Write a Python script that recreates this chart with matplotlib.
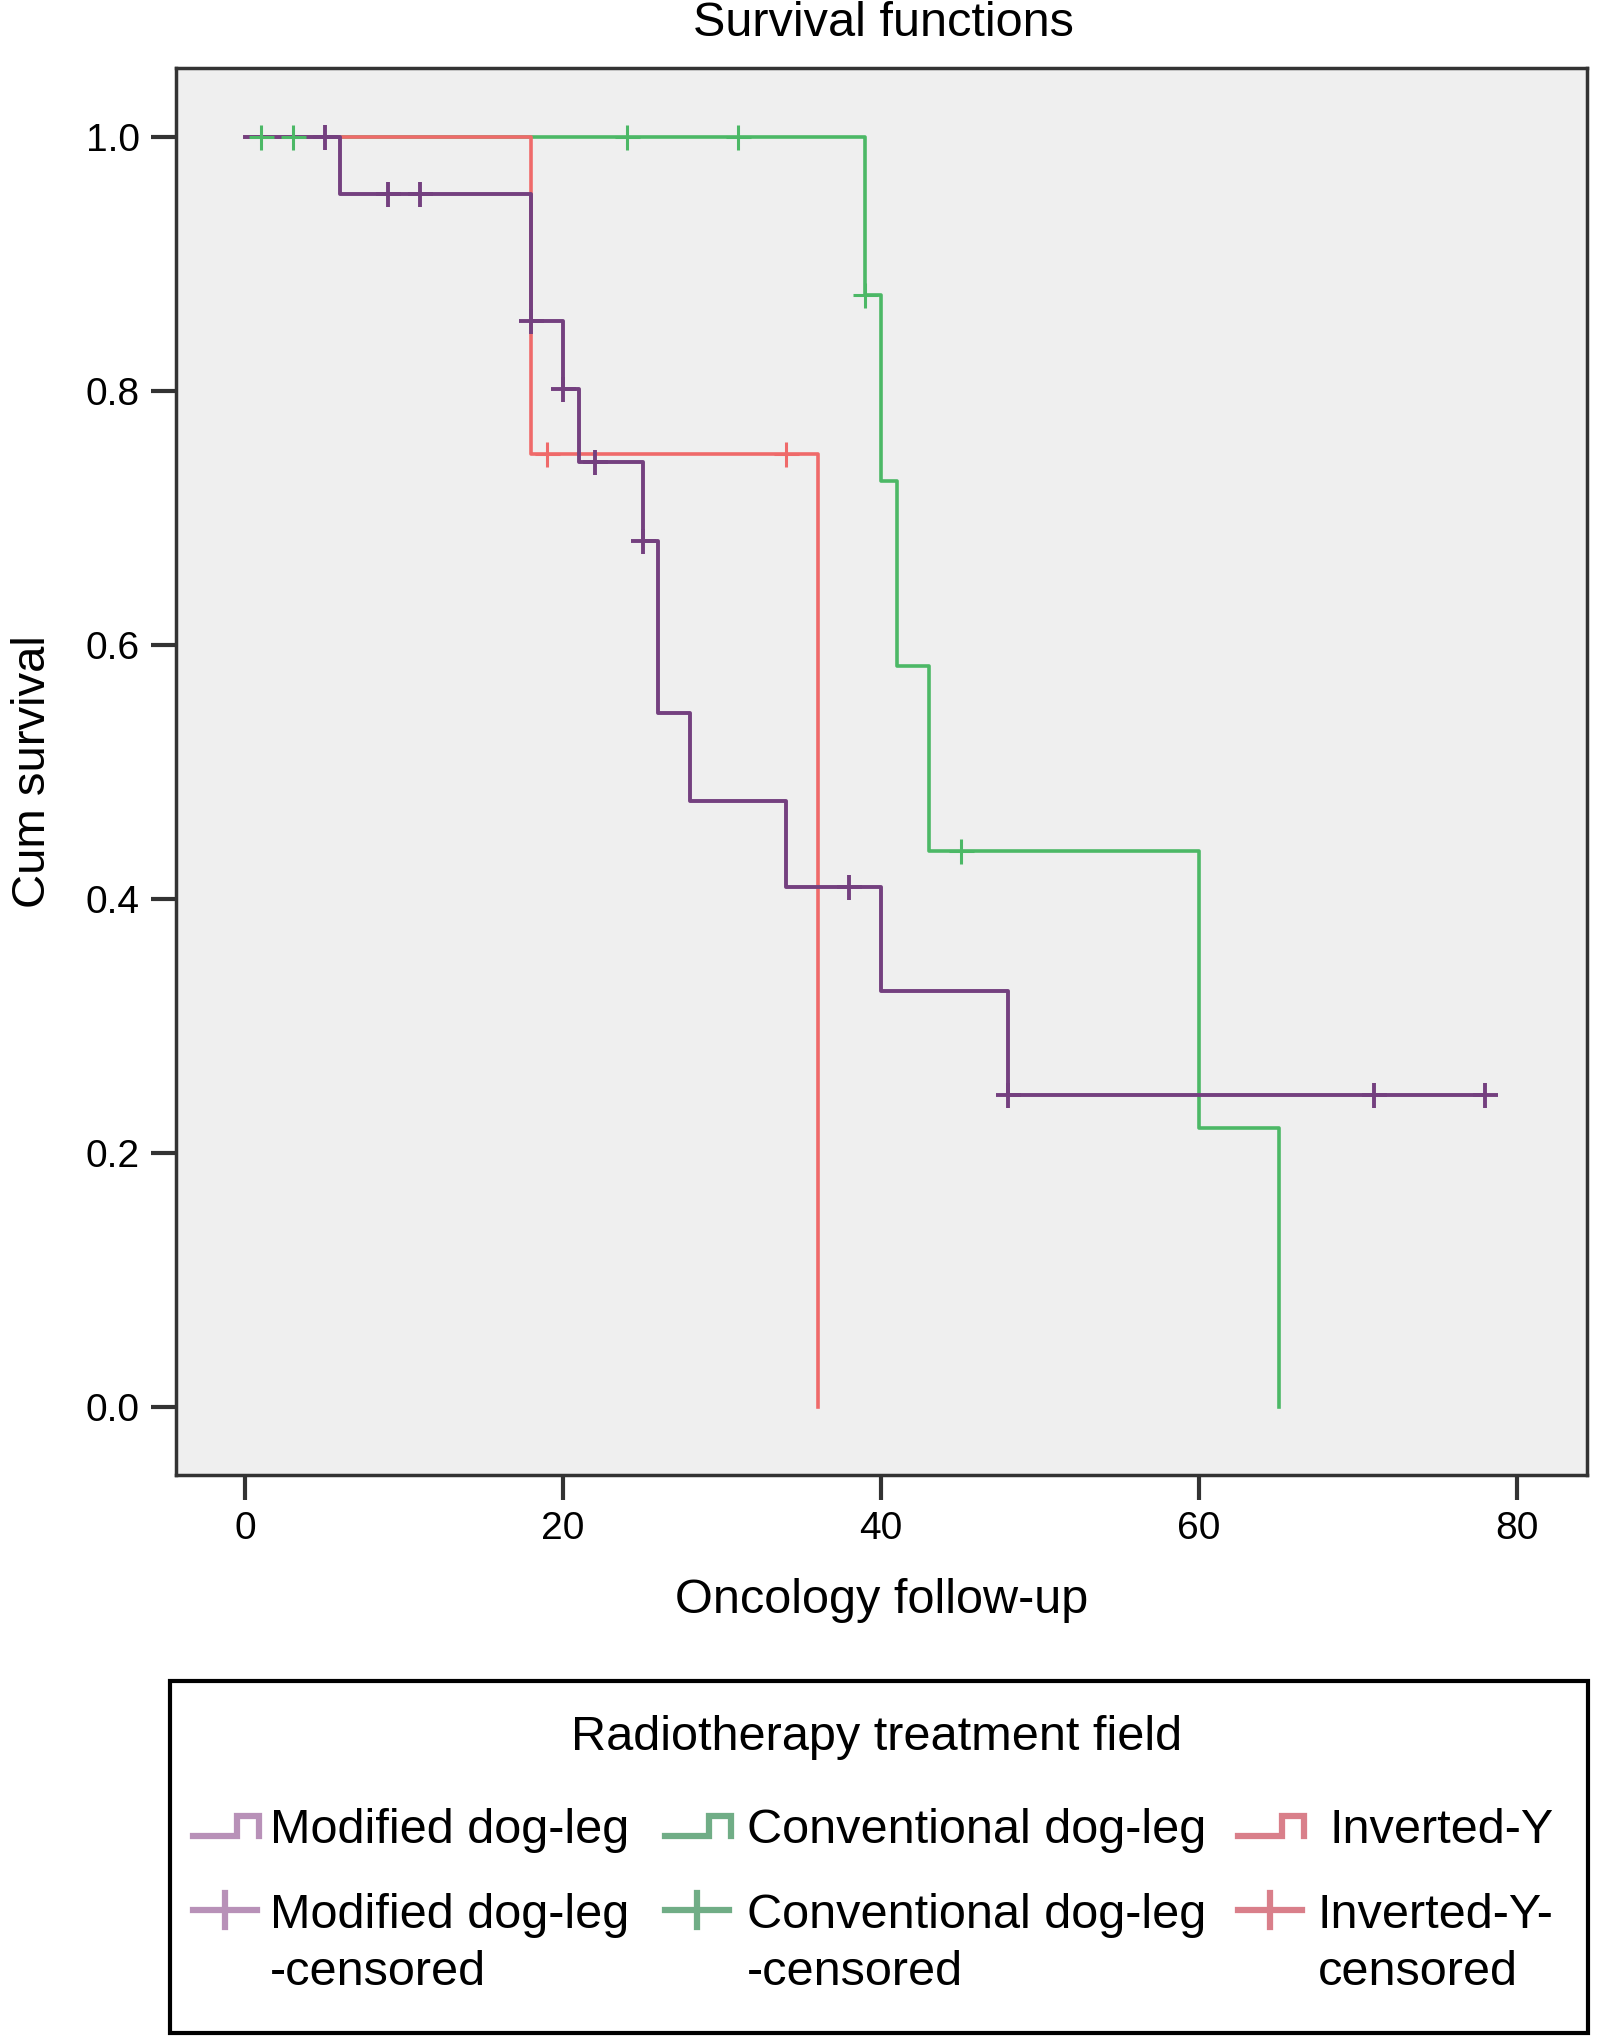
import matplotlib
matplotlib.use("Agg")
import matplotlib.pyplot as plt
from matplotlib.lines import Line2D
from matplotlib.patches import Rectangle

plt.rcParams['font.family'] = ['Liberation Sans', 'DejaVu Sans']

# Kaplan-Meier steps: (time, survival after the drop)
mod_times = [0, 6, 18, 20, 21, 25, 26, 28, 34, 40, 48, 78]
mod_surv = [1.0, 0.955, 0.855, 0.801, 0.744, 0.682, 0.546, 0.477, 0.409, 0.327, 0.245, 0.245]
mod_cens_t = [5, 9, 11, 18, 20, 22, 25, 38, 48, 71, 78]
mod_cens_s = [1.0, 0.955, 0.955, 0.855, 0.801, 0.744, 0.682, 0.409, 0.245, 0.245, 0.245]

conv_times = [0, 39, 40, 41, 43, 60, 65]
conv_surv = [1.0, 0.875, 0.729, 0.583, 0.4375, 0.219, 0.0]
conv_cens_t = [1, 3, 24, 31, 39, 45]
conv_cens_s = [1.0, 1.0, 1.0, 1.0, 0.875, 0.4375]

inv_times = [0, 18, 36]
inv_surv = [1.0, 0.75, 0.0]
inv_cens_t = [19, 34]
inv_cens_s = [0.75, 0.75]

x_ticks = [0, 20, 40, 60, 80]
y_ticks = [0.0, 0.2, 0.4, 0.6, 0.8, 1.0]

purple = '#74407f'
green = '#4cb866'
red = '#ef6a6a'

fig = plt.figure(figsize=(16, 20.36), dpi=100)
ax = fig.add_axes([0.110, 0.2755, 0.882, 0.691])
ax.set_facecolor('#efefef')

ax.step(mod_times, mod_surv, where='post', color=purple, lw=2.8, zorder=3)
ax.step(conv_times, conv_surv, where='post', color=green, lw=2.6, zorder=2)
ax.step(inv_times, inv_surv, where='post', color=red, lw=2.6, zorder=2)

ax.plot(mod_cens_t, mod_cens_s, '+', color=purple, ms=18, mew=2.8, zorder=4)
ax.plot(conv_cens_t, conv_cens_s, '+', color=green, ms=18, mew=2.2, zorder=4)
ax.plot(inv_cens_t, inv_cens_s, '+', color=red, ms=18, mew=2.2, zorder=4)

ax.set_xlim(-4.34, 84.4)
ax.set_ylim(-0.054, 1.054)
ax.set_xticks(x_ticks)
ax.set_yticks(y_ticks)
ax.set_yticklabels(['%.1f' % v for v in y_ticks])
ax.tick_params(labelsize=28, length=18, width=3, color='#333333', pad=8)
for sp in ax.spines.values():
    sp.set_linewidth(2.5)
    sp.set_color('#333333')

ax.set_xlabel('Oncology follow-up', fontsize=35, labelpad=22)
ax.set_ylabel('Cum survival', fontsize=34, labelpad=22)
fig.text(0.552, 1 - 24 / 2036, 'Survival functions', fontsize=35, ha='center', va='center')

# legend drawn by hand in a figure-sized overlay (pixel coords, y down)
lg = fig.add_axes([0, 0, 1, 1])
lg.set_xlim(0, 1600)
lg.set_ylim(2036, 0)
lg.axis('off')
lg.add_patch(Rectangle((170, 1681), 1418, 352, fill=False, lw=3, ec='black'))
lg.text(877, 1750, 'Radiotherapy treatment field', fontsize=35, ha='center', va='baseline')

leg_cols = [(193, 270, '#b891b8', 'Modified dog-leg', 'Modified dog-leg', '-censored', 270),
            (665, 747, '#70ad86', 'Conventional dog-leg', 'Conventional dog-leg', '-censored', 747),
            (1238, 1329, '#d97f8a', 'Inverted-Y', 'Inverted-Y-', 'censored', 1318)]
for hx, tx, col, lab1, lab2a, lab2b, tx2 in leg_cols:
    y1 = 1826
    lg.add_line(Line2D([hx, hx + 44, hx + 44, hx + 66, hx + 66],
                       [y1 + 10, y1 + 10, y1 - 10, y1 - 10, y1 + 10],
                       color=col, lw=4.5, solid_joinstyle='miter'))
    lg.text(tx, 1843, lab1, fontsize=35, ha='left', va='baseline')
    y2 = 1910
    lg.add_line(Line2D([hx, hx + 64], [y2, y2], color=col, lw=4.5))
    lg.add_line(Line2D([hx + 32, hx + 32], [y2 - 17, y2 + 17], color=col, lw=4.5))
    lg.text(tx2, 1928, lab2a, fontsize=35, ha='left', va='baseline')
    lg.text(tx2, 1985, lab2b, fontsize=35, ha='left', va='baseline')

fig.savefig('out.png', dpi=100)
